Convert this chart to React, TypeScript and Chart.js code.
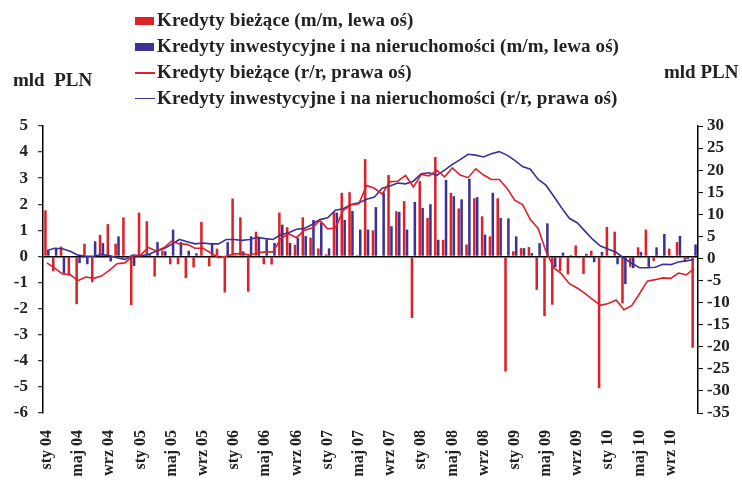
import React, { useEffect, useRef } from "react";
import { Chart, registerables } from "chart.js";

Chart.register(...registerables);

const months = ["sty", "lut", "mar", "kwi", "maj", "cze", "lip", "sie", "wrz", "paź", "lis", "gru"];
const years = ["04", "05", "06", "07", "08", "09", "10"];
const categories = years.flatMap((y) => months.map((m) => `${m} ${y}`));

// Kredyty bieżące (m/m, lewa oś) – mld PLN
const currentMoM = [
  1.77, -0.57, 0.38, -0.73, -1.83, 0.49, -0.99, 0.83, 1.24, 0.49, 1.5, -1.86,
  1.68, 1.35, -0.77, 0.22, -0.3, -0.3, -0.83, -0.42, 1.32, -0.38, 0.3, -1.38,
  2.22, 1.5, -1.35, 0.95, -0.3, -0.31, 1.68, 1.12, 0.45, 1.5, 0.72, 0.31,
  0.08, 1.69, 2.44, 2.46, 0.05, 3.73, 1.0, 0.03, 3.12, 1.73, 2.12, -2.36,
  2.89, 1.48, 3.81, 0.64, 2.44, 1.84, 0.46, 2.23, 1.54, 0.77, 2.23, -4.41,
  0.2, 0.32, 0.36, -1.28, -2.29, -1.85, -0.56, -0.69, 0.42, -0.67, 0.22, -5.05,
  1.13, 0.95, -1.8, -0.4, 0.35, 1.03, -0.17, -0.05, 0.3, 0.55, -0.2, -3.5,
];

// Kredyty inwestycyjne i na nieruchomości (m/m, lewa oś) – mld PLN
const investMoM = [
  0.22, 0.3, -0.64, 0.03, -0.26, -0.3, 0.58, 0.51, -0.19, 0.77, 0.03, -0.36,
  0.05, 0.1, 0.55, 0.2, 1.03, 0.55, 0.22, 0.12, 0.03, 0.5, 0.02, 0.55,
  0.05, 0.19, 0.77, 0.75, 0.65, 0.52, 1.22, 0.52, 0.71, 0.78, 1.4, 1.3,
  0.31, 1.68, 1.4, 1.74, 1.03, 1.03, 1.89, 2.45, 1.16, 1.71, 1.03, 2.09,
  1.86, 2.0, 0.64, 2.93, 2.31, 2.19, 2.98, 2.27, 0.84, 2.44, 1.48, 1.46,
  0.77, 0.32, 0.13, 0.51, 1.27, -0.41, 0.15, 0.05, -0.05, 0.1, -0.22, 0.17,
  -0.03, -0.3, -1.06, -0.45, 0.17, -0.4, 0.35, 0.86, -0.06, 0.79, -0.1, 0.46,
];

// Kredyty bieżące (r/r, prawa oś) – %
const currentYoY = [
  -1.0, -2.2, -3.5, -3.7, -5.0, -4.2, -4.5, -4.0, -2.7, -1.2, -1.0, 0.6,
  0.7, 2.5, 1.7, 2.4, 3.9, 3.3, 3.2, 2.3, 2.3, 1.3, 0.2, 0.5,
  1.05, 1.1, 0.75, 1.3, 1.5, 1.5, 4.5, 5.6, 4.7, 6.35, 6.9, 8.6,
  6.7, 6.9, 10.9, 12.1, 12.4, 16.5, 15.9, 14.6, 17.4, 17.5, 18.8, 16.2,
  19.0, 18.7, 20.0, 18.5, 20.5, 18.9, 18.3, 20.3, 18.9, 17.9, 17.9, 15.9,
  13.2, 12.2, 8.8, 6.8, 1.65, -2.1, -3.5, -5.7, -6.7, -7.9, -9.3, -10.6,
  -10.2, -9.4, -11.6, -10.7, -8.0, -5.15, -4.8, -4.4, -4.5, -3.3, -3.7, -2.3,
];

// Kredyty inwestycyjne i na nieruchomości (r/r, prawa oś) – %
const investYoY = [
  1.8, 2.3, 2.2, 1.65, 0.75, 0.5, 0.5, 0.9, 0.65, 0.15, -0.2, 0.75,
  0.6, 0.9, 1.65, 2.2, 3.2, 4.3, 3.8, 3.3, 3.5, 3.3, 3.3, 4.3,
  4.3, 4.1, 4.3, 4.8, 4.5, 4.3, 5.4, 5.8, 6.6, 6.8, 7.7, 8.8,
  9.2, 10.9, 11.25, 12.2, 12.6, 13.4, 13.9, 15.9, 16.4, 17.1, 16.9, 17.5,
  19.2, 19.4, 18.8, 20.0, 21.3, 22.4, 23.6, 23.4, 23.0, 23.7, 24.2, 23.4,
  22.2, 20.8, 20.2, 17.9, 16.6, 14.1, 11.5, 9.1, 8.1, 6.2, 4.3, 2.8,
  2.1, 1.4, 0.1, -1.1, -2.1, -2.1, -2.0, -1.3, -1.4, -0.8, -0.55, -0.25,
];

const seriesNames = [
  "Kredyty bieżące (m/m, lewa oś)",
  "Kredyty inwestycyjne i na nieruchomości (m/m, lewa oś)",
  "Kredyty bieżące (r/r, prawa oś)",
  "Kredyty inwestycyjne i na nieruchomości (r/r, prawa oś)",
];
const unitLabel = "mld PLN";

const RED = "#dc2129";
const BLUE = "#3b3196";
const FONT = "'Liberation Serif', 'Times New Roman', serif";

export default function App() {
  const ref = useRef<HTMLCanvasElement | null>(null);

  useEffect(() => {
    if (!ref.current) return;
    const tickFont = { family: FONT, size: 17, weight: "bold" as const };
    const chart = new Chart(ref.current, {
      type: "bar",
      data: {
        labels: categories,
        datasets: [
          {
            type: "bar",
            label: seriesNames[0],
            data: currentMoM,
            backgroundColor: RED,
            yAxisID: "y",
            order: 2,
            categoryPercentage: 0.74,
            barPercentage: 0.88,
          },
          {
            type: "bar",
            label: seriesNames[1],
            data: investMoM,
            backgroundColor: BLUE,
            yAxisID: "y",
            order: 2,
            categoryPercentage: 0.74,
            barPercentage: 0.88,
          },
          {
            type: "line",
            label: seriesNames[2],
            data: currentYoY,
            borderColor: RED,
            borderWidth: 1.6,
            pointRadius: 0,
            tension: 0,
            yAxisID: "y1",
            order: 1,
          },
          {
            type: "line",
            label: seriesNames[3],
            data: investYoY,
            borderColor: BLUE,
            borderWidth: 1.6,
            pointRadius: 0,
            tension: 0,
            yAxisID: "y1",
            order: 1,
          },
        ],
      },
      options: {
        responsive: false,
        animation: false,
        layout: { padding: { top: 126, left: 0, right: 0, bottom: 0 } },
        plugins: { legend: { display: false }, tooltip: { enabled: false } },
        scales: {
          x: {
            offset: true,
            grid: { display: false, drawTicks: false },
            border: { display: false },
            ticks: {
              autoSkip: false,
              maxRotation: 90,
              minRotation: 90,
              padding: 17,
              color: "#222",
              font: { family: FONT, size: 16, weight: "bold" },
              callback: (_v, i) => (i % 4 === 0 ? categories[i] : ""),
            },
            afterFit: (s: any) => {
              s.height = 68;
            },
          },
          y: {
            position: "left",
            min: -6,
            max: 5,
            ticks: { stepSize: 1, autoSkip: false, padding: 10, color: "#222", font: tickFont },
            grid: {
              color: (c: any) => (c.tick && c.tick.value === 0 ? "#000" : "rgba(0,0,0,0)"),
              lineWidth: 1.5,
              drawTicks: true,
              tickLength: 5,
              tickColor: "#000",
              tickWidth: 1,
            },
            border: { display: true, color: "#000", width: 1.5 },
            afterFit: (s: any) => {
              s.width = 43;
            },
          },
          y1: {
            position: "right",
            min: -35,
            max: 30,
            ticks: { stepSize: 5, autoSkip: false, padding: 4, color: "#222", font: tickFont },
            grid: {
              drawOnChartArea: false,
              drawTicks: true,
              tickLength: 5,
              tickColor: "#000",
              tickWidth: 1,
            },
            border: { display: true, color: "#000", width: 1.5 },
            afterFit: (s: any) => {
              s.width = 44;
            },
          },
        },
      },
    });
    return () => chart.destroy();
  }, []);

  const textStyle: React.CSSProperties = {
    position: "absolute",
    fontFamily: FONT,
    fontWeight: "bold",
    fontSize: 19,
    color: "#222",
    whiteSpace: "nowrap",
    lineHeight: "20px",
  };
  const rowsY = [21, 47, 73, 98.5];

  return (
    <div style={{ position: "fixed", left: 0, top: 0, width: 742, height: 481, background: "#fff" }}>
      <canvas ref={ref} width={742} height={481} style={{ width: 742, height: 481, display: "block" }} />
      {seriesNames.map((name, i) => (
        <div key={name}>
          {i < 2 ? (
            <div
              style={{
                position: "absolute",
                left: 135,
                top: rowsY[i] - 4,
                width: 19,
                height: 8,
                background: i === 0 ? RED : BLUE,
              }}
            />
          ) : (
            <div
              style={{
                position: "absolute",
                left: 135,
                top: rowsY[i] - 0.75,
                width: 20,
                height: 1.5,
                background: i === 2 ? RED : BLUE,
              }}
            />
          )}
          <div style={{ ...textStyle, left: 157, top: rowsY[i] - 11, letterSpacing: 0.1 }}>{name}</div>
        </div>
      ))}
      <div style={{ ...textStyle, left: 13, top: 70, whiteSpace: "pre" }}>{"mld  PLN"}</div>
      <div style={{ ...textStyle, left: 664, top: 62 }}>{unitLabel}</div>
    </div>
  );
}
